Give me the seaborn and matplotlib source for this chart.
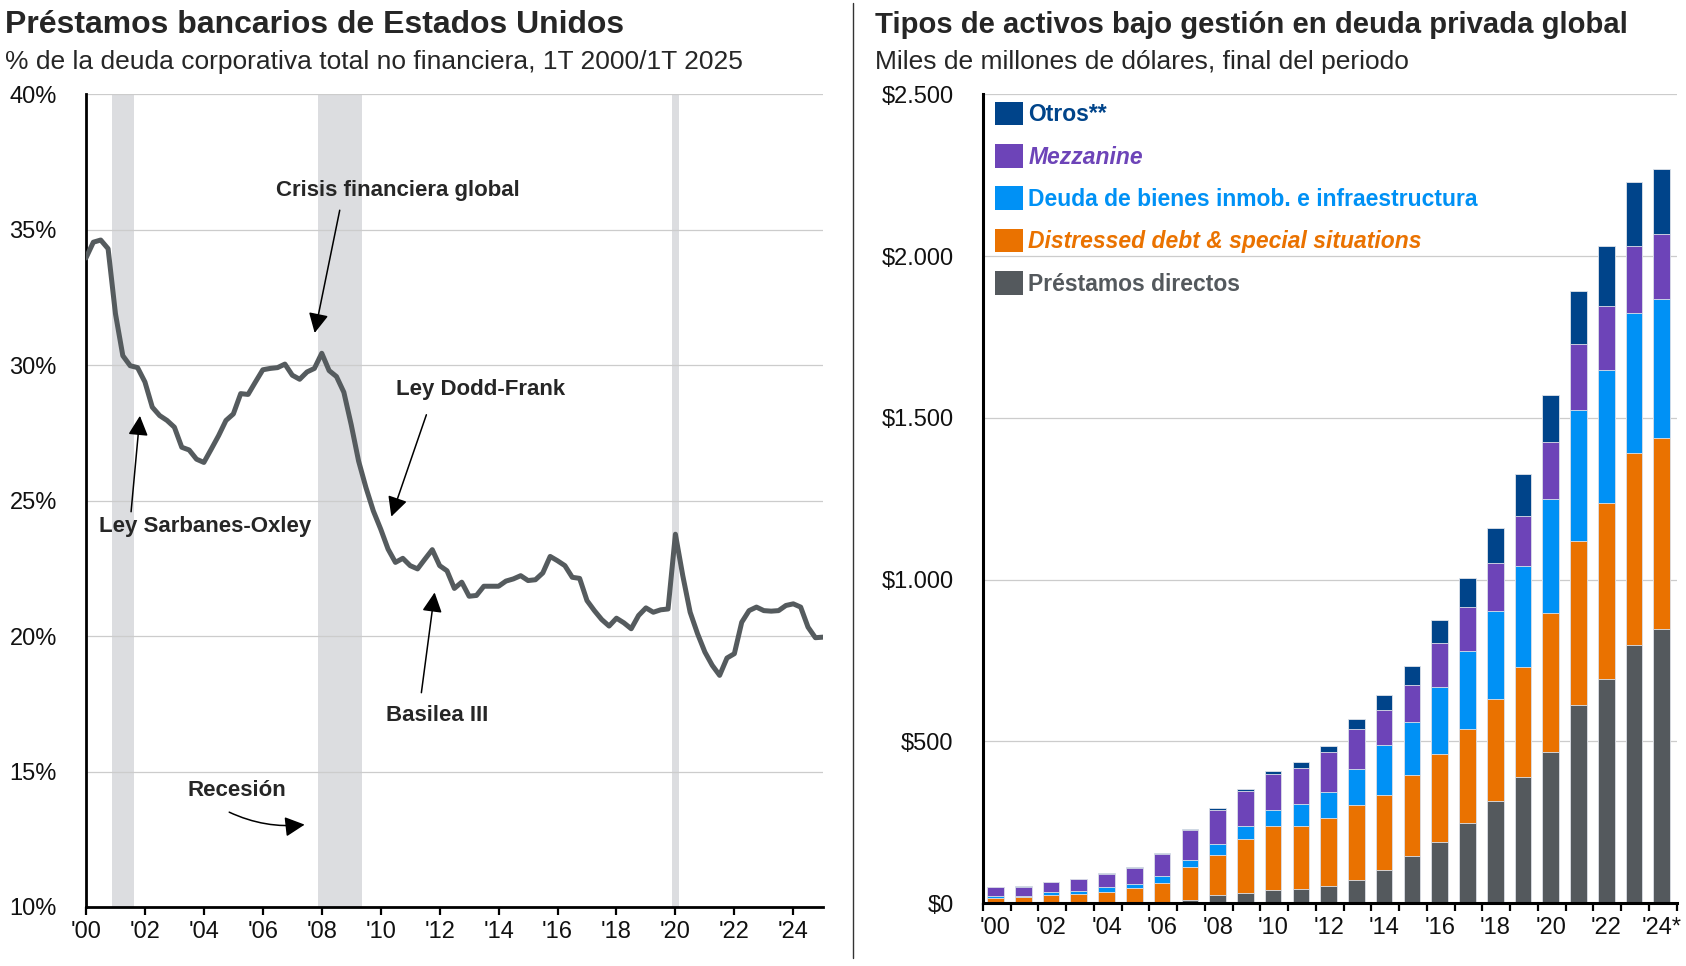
import numpy as np
import pandas as pd
import matplotlib
matplotlib.use("Agg")
import matplotlib.pyplot as plt
import seaborn as sns
from matplotlib.patches import Patch
from matplotlib.lines import Line2D

# --- datos panel izquierdo: préstamos bancarios, % deuda corporativa no financiera ---
trimestres = pd.period_range("2000Q1", "2025Q1", freq="Q")
prestamos_pct = [
    33.96, 34.54, 34.62, 34.30, 31.90, 30.35, 29.98, 29.91, 29.38, 28.45,
    28.14, 27.96, 27.71, 26.97, 26.87, 26.53, 26.41, 26.90, 27.40, 27.96,
    28.20, 28.95, 28.92, 29.38, 29.83, 29.88, 29.91, 30.04, 29.63, 29.48,
    29.75, 29.88, 30.44, 29.80, 29.58, 29.00, 27.80, 26.46, 25.48, 24.62,
    23.95, 23.21, 22.72, 22.87, 22.60, 22.48, 22.84, 23.19, 22.60, 22.41,
    21.76, 21.99, 21.47, 21.50, 21.84, 21.84, 21.84, 22.03, 22.11, 22.23,
    22.05, 22.08, 22.33, 22.94, 22.78, 22.60, 22.17, 22.13, 21.31, 20.94,
    20.61, 20.37, 20.66, 20.49, 20.27, 20.76, 21.04, 20.88, 20.97, 21.00,
    23.76, 22.23, 20.88, 20.09, 19.41, 18.92, 18.55, 19.19, 19.35, 20.51,
    20.94, 21.07, 20.94, 20.92, 20.94, 21.13, 21.19, 21.07, 20.33, 19.94,
    19.96,
]
recesiones = [(2000.875, 2001.625), (2007.875, 2009.375), (2019.875, 2020.125)]

# --- datos panel derecho: activos bajo gestión en deuda privada (miles de millones USD) ---
anios = [str(a) for a in range(2000, 2025)]
etiquetas_anios = ["'" + a[2:] if i % 2 == 0 else "" for i, a in enumerate(anios)]
etiquetas_anios[-1] = "'24*"
directos = [0, 0, 0, 0, 0, 0, 0, 8, 24, 32, 40, 42, 54, 72, 102, 144, 190, 248, 316, 389, 467, 611, 693, 799, 846]
distressed = [14, 18, 25, 29, 35, 47, 63, 102, 125, 166, 199, 197, 209, 230, 233, 251, 271, 290, 316, 340, 431, 509, 545, 593, 593]
inmob = [7, 5, 8, 9, 14, 13, 19, 23, 35, 39, 49, 67, 80, 113, 153, 164, 207, 241, 272, 314, 352, 403, 410, 433, 430]
mezzanine = [27, 28, 31, 35, 42, 49, 71, 94, 105, 109, 111, 113, 123, 122, 108, 115, 135, 135, 148, 154, 175, 204, 198, 208, 201]
otros = [2, 1, 2, 2, 2, 2, 2, 3, 4, 7, 8, 18, 19, 31, 48, 60, 72, 90, 108, 129, 147, 165, 184, 196, 201]

GRIS = "#54595d"
NARANJA = "#ea7200"
AZUL_CLARO = "#0091f5"
MORADO = "#6d44b8"
AZUL_OSCURO = "#00448a"
LINEA = "#555b5e"
BANDA = "#dcdde0"
REJILLA = "#cccccc"

sns.set_style("white")
plt.rcParams["font.family"] = ["Liberation Sans", "DejaVu Sans"]

fig = plt.figure(figsize=(16.86, 9.66), dpi=100)
ax1 = fig.add_axes([0.051, 0.0611, 0.437, 0.8413])
ax2 = fig.add_axes([0.5829, 0.0652, 0.4116, 0.837])

# ---------------- panel izquierdo ----------------
df_izq = pd.DataFrame({
    "x": trimestres.year + (trimestres.quarter - 1) / 4,
    "pct": prestamos_pct,
})
for ini, fin in recesiones:
    ax1.axvspan(ini, fin, color=BANDA, lw=0, zorder=0)
sns.lineplot(data=df_izq, x="x", y="pct", color=LINEA, linewidth=3.6, ax=ax1, zorder=3)

ax1.set_xlim(2000, 2025)
ax1.set_ylim(10, 40)
ax1.set_yticks(range(10, 41, 5))
ax1.set_yticklabels([f"{v}%" for v in range(10, 41, 5)])
ax1.set_xticks(range(2000, 2025, 2))
ax1.set_xticklabels([f"'{str(a)[2:]}" for a in range(2000, 2025, 2)])
ax1.set_xlabel("")
ax1.set_ylabel("")
ax1.grid(axis="y", color=REJILLA, lw=0.9)
ax1.grid(axis="x", visible=False)
ax1.set_axisbelow(True)
for s in ["top", "right"]:
    ax1.spines[s].set_visible(False)
for s in ["left", "bottom"]:
    ax1.spines[s].set_color("black")
    ax1.spines[s].set_linewidth(2)
ax1.tick_params(axis="y", length=0, pad=21, labelsize=17, colors="#111111")
ax1.tick_params(axis="x", length=6, width=1.6, direction="out", pad=4, labelsize=17,
                colors="black", labelcolor="#111111")
ax1.xaxis.set_ticks_position("bottom")

# anotaciones
flecha = dict(arrowstyle="-|>,head_length=0.75,head_width=0.38", color="black", lw=1.1,
              mutation_scale=16, shrinkA=0, shrinkB=0)
ax1.text(2010.58, 36.43, "Crisis financiera global", ha="center", va="center",
         fontsize=16, fontweight="bold")
ax1.annotate("", xy=(2007.76, 31.19), xytext=(2008.61, 35.72), arrowprops=flecha)
ax1.text(2013.39, 29.09, "Ley Dodd-Frank", ha="center", va="center",
         fontsize=16, fontweight="bold")
ax1.annotate("", xy=(2010.36, 24.41), xytext=(2011.55, 28.17), arrowprops=flecha)
ax1.text(2004.03, 24.03, "Ley Sarbanes-Oxley", ha="center", va="center",
         fontsize=16, fontweight="bold")
ax1.annotate("", xy=(2001.83, 28.13), xytext=(2001.53, 24.59), arrowprops=flecha)
ax1.text(2011.9, 17.06, "Basilea III", ha="center", va="center",
         fontsize=16, fontweight="bold")
ax1.annotate("", xy=(2011.83, 21.61), xytext=(2011.38, 17.91), arrowprops=flecha)
ax1.text(2005.12, 14.29, "Recesión", ha="center", va="center",
         fontsize=16, fontweight="bold")
flecha_curva = dict(flecha, connectionstyle="arc3,rad=0.14")
ax1.annotate("", xy=(2007.42, 13.04), xytext=(2004.86, 13.5), arrowprops=flecha_curva)

# ---------------- panel derecho ----------------
capas = [
    ("Préstamos directos", directos, GRIS),
    ("Distressed debt & special situations", distressed, NARANJA),
    ("Deuda de bienes inmob. e infraestructura", inmob, AZUL_CLARO),
    ("Mezzanine", mezzanine, MORADO),
    ("Otros**", otros, AZUL_OSCURO),
]
acumulado = np.cumsum([c[1] for c in capas], axis=0)
# se dibuja de la capa superior hacia abajo para apilar
for k in range(len(capas) - 1, -1, -1):
    sns.barplot(x=anios, y=acumulado[k], color=capas[k][2], width=0.6, errorbar=None,
                edgecolor="#dfe3ea", linewidth=0.6, saturation=1, ax=ax2, zorder=2)

ax2.set_xlim(-0.46, 24.52)
ax2.set_ylim(0, 2500)
ax2.set_yticks(range(0, 2501, 500))
ax2.set_yticklabels(["$" + f"{v:,}".replace(",", ".") for v in range(0, 2501, 500)])
ax2.set_xticks(range(len(anios)))
ax2.set_xticklabels(etiquetas_anios)
ax2.set_xticks(np.arange(len(anios) + 1) - 0.46, minor=True)
ax2.set_xlabel("")
ax2.set_ylabel("")
ax2.grid(axis="y", color=REJILLA, lw=0.9)
ax2.grid(axis="x", visible=False)
ax2.set_axisbelow(True)
for s in ["top", "right"]:
    ax2.spines[s].set_visible(False)
for s in ["left", "bottom"]:
    ax2.spines[s].set_color("black")
    ax2.spines[s].set_linewidth(2.2)
ax2.tick_params(axis="y", length=0, pad=21, labelsize=17, colors="#111111")
ax2.tick_params(axis="x", which="major", length=0, pad=10, labelsize=17, labelcolor="#111111")
ax2.tick_params(axis="x", which="minor", length=6, width=1.6, direction="out", color="black")
ax2.xaxis.set_ticks_position("bottom")

manejadores = [Patch(facecolor=c[2], edgecolor="none") for c in capas[::-1]]
leg = ax2.legend(manejadores, [c[0] for c in capas[::-1]], loc="upper left",
                 bbox_to_anchor=(0.0177, 0.991), frameon=False, borderaxespad=0, borderpad=0,
                 handlelength=1.2, handleheight=1.2, handletextpad=0.25, labelspacing=0.78,
                 prop={"size": 16.5, "weight": "bold"})
estilos = ["normal", "italic", "normal", "italic", "normal"]
for txt, c, st in zip(leg.get_texts(), capas[::-1], estilos):
    txt.set_color(c[2])
    txt.set_fontstyle(st)

# ---------------- títulos ----------------
fig.text(0.003, 0.9655, "Préstamos bancarios de Estados Unidos", fontsize=23,
         fontweight="bold", va="baseline", ha="left")
fig.text(0.003, 0.9289, "% de la deuda corporativa total no financiera, 1T 2000/1T 2025",
         fontsize=19, va="baseline", ha="left")
fig.text(0.5187, 0.9655, "Tipos de activos bajo gestión en deuda privada global", fontsize=21.1,
         fontweight="bold", va="baseline", ha="left")
fig.text(0.5187, 0.9289, "Miles de millones de dólares, final del periodo",
         fontsize=19, va="baseline", ha="left")
fig.add_artist(Line2D([0.506, 0.506], [0.008, 0.997], color="#333333", lw=1))

fig.savefig("out.png", dpi=100)
